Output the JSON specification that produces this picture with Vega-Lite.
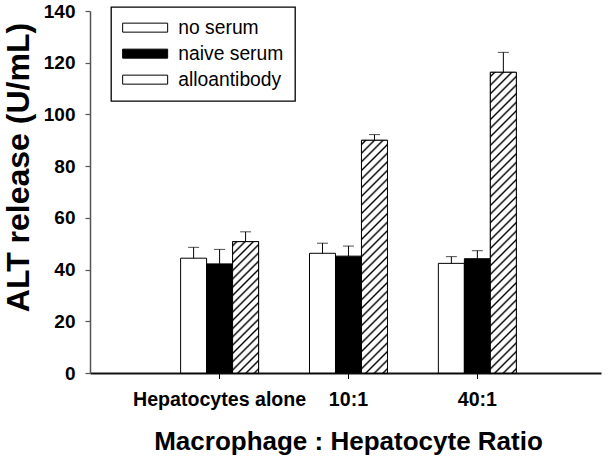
{
  "$schema": "https://vega.github.io/schema/vega-lite/v6.json",
  "width": 511,
  "height": 362,
  "autosize": {"type": "none"},
  "padding": {"left": 90, "top": 11, "right": 10, "bottom": 84},
  "background": "white",
  "config": {"font": "Liberation Sans", "view": {"stroke": null}, "legend": {"strokeWidth": 1.3}},
  "data": {
    "values": [
      {"group": "Hepatocytes alone", "serum": "no serum", "value": 44.4, "upper": 48.6},
      {"group": "Hepatocytes alone", "serum": "naive serum", "value": 42.2, "upper": 47.8},
      {"group": "Hepatocytes alone", "serum": "alloantibody", "value": 50.8, "upper": 54.6},
      {"group": "10:1", "serum": "no serum", "value": 46.3, "upper": 50.2},
      {"group": "10:1", "serum": "naive serum", "value": 45.2, "upper": 49.1},
      {"group": "10:1", "serum": "alloantibody", "value": 90.0, "upper": 92.2},
      {"group": "40:1", "serum": "no serum", "value": 42.4, "upper": 45.0},
      {"group": "40:1", "serum": "naive serum", "value": 44.2, "upper": 47.3},
      {"group": "40:1", "serum": "alloantibody", "value": 116.3, "upper": 124.0}
    ]
  },
  "encoding": {
    "x": {
      "field": "group", "type": "nominal",
      "sort": ["Hepatocytes alone", "10:1", "40:1"],
      "scale": {"paddingInner": 0.395, "paddingOuter": 0.68, "align": 0.517},
      "axis": {
        "title": "Macrophage : Hepatocyte Ratio",
        "titleFontSize": 26, "titleFontWeight": "bold", "titleColor": "black",
        "titleX": 258, "titleY": 55, "titleBaseline": "top",
        "labelFontSize": 19.6, "labelFontWeight": "bold", "labelColor": "black",
        "labelAngle": 0, "labelPadding": 12, "labelLimit": 400,
        "tickSize": 5.5, "tickColor": "black", "tickWidth": 1,
        "domainColor": "#111111", "domainWidth": 2
      }
    },
    "xOffset": {
      "field": "serum", "type": "nominal",
      "sort": ["no serum", "naive serum", "alloantibody"],
      "scale": {"domain": ["no serum", "naive serum", "alloantibody"], "paddingInner": 0, "paddingOuter": 0}
    }
  },
  "layer": [
    {
      "mark": {"type": "bar", "stroke": "black", "strokeWidth": 1},
      "encoding": {
        "y": {
          "field": "value", "type": "quantitative",
          "scale": {"domain": [0, 140], "nice": false},
          "axis": {
            "title": "ALT release (U/mL)",
            "titleFontSize": 32, "titleFontWeight": "bold", "titleColor": "black",
            "titleX": -55, "titleY": 156, "titleAngle": 270, "titleAlign": "center", "titleBaseline": "bottom",
            "values": [0, 20, 40, 60, 80, 100, 120, 140],
            "labelFontSize": 19, "labelFontWeight": "bold", "labelColor": "black",
            "labelPadding": 10, "tickSize": 5, "tickColor": "#555555", "tickWidth": 1.2,
            "domainColor": "#555555", "domainWidth": 1.5, "grid": false
          }
        },
        "fill": {
          "field": "serum", "type": "nominal",
          "scale": {
            "domain": ["no serum", "naive serum", "alloantibody"],
            "range": ["#ffffff", "#000000", "#ffffff"]
          },
          "legend": {
            "title": null, "orient": "none", "legendX": 21, "legendY": -4,
            "symbolType": "M-2,-1H8V1H-2Z", "symbolSize": 81,
            "symbolStrokeColor": "black", "symbolStrokeWidth": 1,
            "labelOffset": 37, "labelFontSize": 19.3, "labelColor": "black",
            "rowPadding": 6, "padding": 11,
            "strokeColor": "black", "fillColor": "white",
            "encode": {
              "labels": {
                "update": {
                  "text": {"signal": "datum.label + '\u2003\u2003'"}
                }
              },
              "symbols": {
                "update": {
                  "stroke": {"value": "black"},
                  "strokeWidth": {"value": 1},
                  "fill": [
                    {"test": "datum.value === 'alloantibody'", "value": {"gradient": "linear", "x1": 0, "y1": 0, "x2": 1.15385, "y2": 0.23077, "stops": [
                      {"offset": 0.04633, "color": "#fff"}, {"offset": 0.08333, "color": "#000"}, {"offset": 0.12033, "color": "#fff"},
                      {"offset": 0.213, "color": "#fff"}, {"offset": 0.25, "color": "#000"}, {"offset": 0.287, "color": "#fff"},
                      {"offset": 0.37967, "color": "#fff"}, {"offset": 0.41667, "color": "#000"}, {"offset": 0.45367, "color": "#fff"},
                      {"offset": 0.54633, "color": "#fff"}, {"offset": 0.58333, "color": "#000"}, {"offset": 0.62033, "color": "#fff"},
                      {"offset": 0.713, "color": "#fff"}, {"offset": 0.75, "color": "#000"}, {"offset": 0.787, "color": "#fff"},
                      {"offset": 0.87967, "color": "#fff"}, {"offset": 0.91667, "color": "#000"}, {"offset": 0.95367, "color": "#fff"}
                    ]}},
                    {"scale": "fill", "field": "value"}
                  ]
                }
              }
            }
          }
        }
      }
    },
    {
      "transform": [{"filter": "datum.serum === 'alloantibody'"}],
      "mark": {"type": "bar", "stroke": "black", "strokeWidth": 1},
      "encoding": {
        "y": {"field": "value", "type": "quantitative"},
        "fill": {
          "condition": [
            {"test": "datum.group === 'Hepatocytes alone'", "value": {"gradient": "linear", "x1": 0, "y1": 0, "x2": 0.22819, "y2": 1.15278, "stops": [
              {"offset": 0.01362, "color": "#fff"}, {"offset": 0.02632, "color": "#000"}, {"offset": 0.03902, "color": "#fff"},
              {"offset": 0.06625, "color": "#fff"}, {"offset": 0.07895, "color": "#000"}, {"offset": 0.09165, "color": "#fff"},
              {"offset": 0.11888, "color": "#fff"}, {"offset": 0.13158, "color": "#000"}, {"offset": 0.14428, "color": "#fff"},
              {"offset": 0.17151, "color": "#fff"}, {"offset": 0.18421, "color": "#000"}, {"offset": 0.19691, "color": "#fff"},
              {"offset": 0.22414, "color": "#fff"}, {"offset": 0.23684, "color": "#000"}, {"offset": 0.24954, "color": "#fff"},
              {"offset": 0.27677, "color": "#fff"}, {"offset": 0.28947, "color": "#000"}, {"offset": 0.30217, "color": "#fff"},
              {"offset": 0.32941, "color": "#fff"}, {"offset": 0.34211, "color": "#000"}, {"offset": 0.35481, "color": "#fff"},
              {"offset": 0.38204, "color": "#fff"}, {"offset": 0.39474, "color": "#000"}, {"offset": 0.40744, "color": "#fff"},
              {"offset": 0.43467, "color": "#fff"}, {"offset": 0.44737, "color": "#000"}, {"offset": 0.46007, "color": "#fff"},
              {"offset": 0.4873, "color": "#fff"}, {"offset": 0.5, "color": "#000"}, {"offset": 0.5127, "color": "#fff"},
              {"offset": 0.53993, "color": "#fff"}, {"offset": 0.55263, "color": "#000"}, {"offset": 0.56533, "color": "#fff"},
              {"offset": 0.59256, "color": "#fff"}, {"offset": 0.60526, "color": "#000"}, {"offset": 0.61796, "color": "#fff"},
              {"offset": 0.64519, "color": "#fff"}, {"offset": 0.65789, "color": "#000"}, {"offset": 0.67059, "color": "#fff"},
              {"offset": 0.69783, "color": "#fff"}, {"offset": 0.71053, "color": "#000"}, {"offset": 0.72323, "color": "#fff"},
              {"offset": 0.75046, "color": "#fff"}, {"offset": 0.76316, "color": "#000"}, {"offset": 0.77586, "color": "#fff"},
              {"offset": 0.80309, "color": "#fff"}, {"offset": 0.81579, "color": "#000"}, {"offset": 0.82849, "color": "#fff"},
              {"offset": 0.85572, "color": "#fff"}, {"offset": 0.86842, "color": "#000"}, {"offset": 0.88112, "color": "#fff"},
              {"offset": 0.90835, "color": "#fff"}, {"offset": 0.92105, "color": "#000"}, {"offset": 0.93375, "color": "#fff"},
              {"offset": 0.96098, "color": "#fff"}, {"offset": 0.97368, "color": "#000"}, {"offset": 0.98638, "color": "#fff"}
            ]}},
            {"test": "datum.group === '10:1'", "value": {"gradient": "linear", "x1": 0, "y1": 0, "x2": 0.12268, "y2": 1.09803, "stops": [
              {"offset": 0.00897, "color": "#fff"}, {"offset": 0.01667, "color": "#000"}, {"offset": 0.02437, "color": "#fff"},
              {"offset": 0.0423, "color": "#fff"}, {"offset": 0.05, "color": "#000"}, {"offset": 0.0577, "color": "#fff"},
              {"offset": 0.07563, "color": "#fff"}, {"offset": 0.08333, "color": "#000"}, {"offset": 0.09103, "color": "#fff"},
              {"offset": 0.10897, "color": "#fff"}, {"offset": 0.11667, "color": "#000"}, {"offset": 0.12437, "color": "#fff"},
              {"offset": 0.1423, "color": "#fff"}, {"offset": 0.15, "color": "#000"}, {"offset": 0.1577, "color": "#fff"},
              {"offset": 0.17563, "color": "#fff"}, {"offset": 0.18333, "color": "#000"}, {"offset": 0.19103, "color": "#fff"},
              {"offset": 0.20897, "color": "#fff"}, {"offset": 0.21667, "color": "#000"}, {"offset": 0.22437, "color": "#fff"},
              {"offset": 0.2423, "color": "#fff"}, {"offset": 0.25, "color": "#000"}, {"offset": 0.2577, "color": "#fff"},
              {"offset": 0.27563, "color": "#fff"}, {"offset": 0.28333, "color": "#000"}, {"offset": 0.29103, "color": "#fff"},
              {"offset": 0.30897, "color": "#fff"}, {"offset": 0.31667, "color": "#000"}, {"offset": 0.32437, "color": "#fff"},
              {"offset": 0.3423, "color": "#fff"}, {"offset": 0.35, "color": "#000"}, {"offset": 0.3577, "color": "#fff"},
              {"offset": 0.37563, "color": "#fff"}, {"offset": 0.38333, "color": "#000"}, {"offset": 0.39103, "color": "#fff"},
              {"offset": 0.40897, "color": "#fff"}, {"offset": 0.41667, "color": "#000"}, {"offset": 0.42437, "color": "#fff"},
              {"offset": 0.4423, "color": "#fff"}, {"offset": 0.45, "color": "#000"}, {"offset": 0.4577, "color": "#fff"},
              {"offset": 0.47563, "color": "#fff"}, {"offset": 0.48333, "color": "#000"}, {"offset": 0.49103, "color": "#fff"},
              {"offset": 0.50897, "color": "#fff"}, {"offset": 0.51667, "color": "#000"}, {"offset": 0.52437, "color": "#fff"},
              {"offset": 0.5423, "color": "#fff"}, {"offset": 0.55, "color": "#000"}, {"offset": 0.5577, "color": "#fff"},
              {"offset": 0.57563, "color": "#fff"}, {"offset": 0.58333, "color": "#000"}, {"offset": 0.59103, "color": "#fff"},
              {"offset": 0.60897, "color": "#fff"}, {"offset": 0.61667, "color": "#000"}, {"offset": 0.62437, "color": "#fff"},
              {"offset": 0.6423, "color": "#fff"}, {"offset": 0.65, "color": "#000"}, {"offset": 0.6577, "color": "#fff"},
              {"offset": 0.67563, "color": "#fff"}, {"offset": 0.68333, "color": "#000"}, {"offset": 0.69103, "color": "#fff"},
              {"offset": 0.70897, "color": "#fff"}, {"offset": 0.71667, "color": "#000"}, {"offset": 0.72437, "color": "#fff"},
              {"offset": 0.7423, "color": "#fff"}, {"offset": 0.75, "color": "#000"}, {"offset": 0.7577, "color": "#fff"},
              {"offset": 0.77563, "color": "#fff"}, {"offset": 0.78333, "color": "#000"}, {"offset": 0.79103, "color": "#fff"},
              {"offset": 0.80897, "color": "#fff"}, {"offset": 0.81667, "color": "#000"}, {"offset": 0.82437, "color": "#fff"},
              {"offset": 0.8423, "color": "#fff"}, {"offset": 0.85, "color": "#000"}, {"offset": 0.8577, "color": "#fff"},
              {"offset": 0.87563, "color": "#fff"}, {"offset": 0.88333, "color": "#000"}, {"offset": 0.89103, "color": "#fff"},
              {"offset": 0.90897, "color": "#fff"}, {"offset": 0.91667, "color": "#000"}, {"offset": 0.92437, "color": "#fff"},
              {"offset": 0.9423, "color": "#fff"}, {"offset": 0.95, "color": "#000"}, {"offset": 0.9577, "color": "#fff"},
              {"offset": 0.97563, "color": "#fff"}, {"offset": 0.98333, "color": "#000"}, {"offset": 0.99103, "color": "#fff"}
            ]}}
          ],
          "value": {"gradient": "linear", "x1": 0, "y1": 0, "x2": 0.09324, "y2": 1.07841, "stops": [
            {"offset": 0.00706, "color": "#fff"}, {"offset": 0.01316, "color": "#000"}, {"offset": 0.01926, "color": "#fff"},
            {"offset": 0.03337, "color": "#fff"}, {"offset": 0.03947, "color": "#000"}, {"offset": 0.04557, "color": "#fff"},
            {"offset": 0.05969, "color": "#fff"}, {"offset": 0.06579, "color": "#000"}, {"offset": 0.07189, "color": "#fff"},
            {"offset": 0.08601, "color": "#fff"}, {"offset": 0.09211, "color": "#000"}, {"offset": 0.09821, "color": "#fff"},
            {"offset": 0.11232, "color": "#fff"}, {"offset": 0.11842, "color": "#000"}, {"offset": 0.12452, "color": "#fff"},
            {"offset": 0.13864, "color": "#fff"}, {"offset": 0.14474, "color": "#000"}, {"offset": 0.15084, "color": "#fff"},
            {"offset": 0.16495, "color": "#fff"}, {"offset": 0.17105, "color": "#000"}, {"offset": 0.17715, "color": "#fff"},
            {"offset": 0.19127, "color": "#fff"}, {"offset": 0.19737, "color": "#000"}, {"offset": 0.20347, "color": "#fff"},
            {"offset": 0.21758, "color": "#fff"}, {"offset": 0.22368, "color": "#000"}, {"offset": 0.22978, "color": "#fff"},
            {"offset": 0.2439, "color": "#fff"}, {"offset": 0.25, "color": "#000"}, {"offset": 0.2561, "color": "#fff"},
            {"offset": 0.27022, "color": "#fff"}, {"offset": 0.27632, "color": "#000"}, {"offset": 0.28242, "color": "#fff"},
            {"offset": 0.29653, "color": "#fff"}, {"offset": 0.30263, "color": "#000"}, {"offset": 0.30873, "color": "#fff"},
            {"offset": 0.32285, "color": "#fff"}, {"offset": 0.32895, "color": "#000"}, {"offset": 0.33505, "color": "#fff"},
            {"offset": 0.34916, "color": "#fff"}, {"offset": 0.35526, "color": "#000"}, {"offset": 0.36136, "color": "#fff"},
            {"offset": 0.37548, "color": "#fff"}, {"offset": 0.38158, "color": "#000"}, {"offset": 0.38768, "color": "#fff"},
            {"offset": 0.40179, "color": "#fff"}, {"offset": 0.40789, "color": "#000"}, {"offset": 0.41399, "color": "#fff"},
            {"offset": 0.42811, "color": "#fff"}, {"offset": 0.43421, "color": "#000"}, {"offset": 0.44031, "color": "#fff"},
            {"offset": 0.45443, "color": "#fff"}, {"offset": 0.46053, "color": "#000"}, {"offset": 0.46663, "color": "#fff"},
            {"offset": 0.48074, "color": "#fff"}, {"offset": 0.48684, "color": "#000"}, {"offset": 0.49294, "color": "#fff"},
            {"offset": 0.50706, "color": "#fff"}, {"offset": 0.51316, "color": "#000"}, {"offset": 0.51926, "color": "#fff"},
            {"offset": 0.53337, "color": "#fff"}, {"offset": 0.53947, "color": "#000"}, {"offset": 0.54557, "color": "#fff"},
            {"offset": 0.55969, "color": "#fff"}, {"offset": 0.56579, "color": "#000"}, {"offset": 0.57189, "color": "#fff"},
            {"offset": 0.58601, "color": "#fff"}, {"offset": 0.59211, "color": "#000"}, {"offset": 0.59821, "color": "#fff"},
            {"offset": 0.61232, "color": "#fff"}, {"offset": 0.61842, "color": "#000"}, {"offset": 0.62452, "color": "#fff"},
            {"offset": 0.63864, "color": "#fff"}, {"offset": 0.64474, "color": "#000"}, {"offset": 0.65084, "color": "#fff"},
            {"offset": 0.66495, "color": "#fff"}, {"offset": 0.67105, "color": "#000"}, {"offset": 0.67715, "color": "#fff"},
            {"offset": 0.69127, "color": "#fff"}, {"offset": 0.69737, "color": "#000"}, {"offset": 0.70347, "color": "#fff"},
            {"offset": 0.71758, "color": "#fff"}, {"offset": 0.72368, "color": "#000"}, {"offset": 0.72978, "color": "#fff"},
            {"offset": 0.7439, "color": "#fff"}, {"offset": 0.75, "color": "#000"}, {"offset": 0.7561, "color": "#fff"},
            {"offset": 0.77022, "color": "#fff"}, {"offset": 0.77632, "color": "#000"}, {"offset": 0.78242, "color": "#fff"},
            {"offset": 0.79653, "color": "#fff"}, {"offset": 0.80263, "color": "#000"}, {"offset": 0.80873, "color": "#fff"},
            {"offset": 0.82285, "color": "#fff"}, {"offset": 0.82895, "color": "#000"}, {"offset": 0.83505, "color": "#fff"},
            {"offset": 0.84916, "color": "#fff"}, {"offset": 0.85526, "color": "#000"}, {"offset": 0.86136, "color": "#fff"},
            {"offset": 0.87548, "color": "#fff"}, {"offset": 0.88158, "color": "#000"}, {"offset": 0.88768, "color": "#fff"},
            {"offset": 0.90179, "color": "#fff"}, {"offset": 0.90789, "color": "#000"}, {"offset": 0.91399, "color": "#fff"},
            {"offset": 0.92811, "color": "#fff"}, {"offset": 0.93421, "color": "#000"}, {"offset": 0.94031, "color": "#fff"},
            {"offset": 0.95443, "color": "#fff"}, {"offset": 0.96053, "color": "#000"}, {"offset": 0.96663, "color": "#fff"},
            {"offset": 0.98074, "color": "#fff"}, {"offset": 0.98684, "color": "#000"}, {"offset": 0.99294, "color": "#fff"}
          ]}
        }
      }
    },
    {
      "mark": {"type": "rule", "color": "black", "strokeWidth": 1},
      "encoding": {
        "y": {"field": "value", "type": "quantitative"},
        "y2": {"field": "upper"}
      }
    },
    {
      "mark": {"type": "tick", "color": "black", "size": 11, "thickness": 1, "orient": "horizontal"},
      "encoding": {
        "y": {"field": "upper", "type": "quantitative"}
      }
    }
  ]
}
